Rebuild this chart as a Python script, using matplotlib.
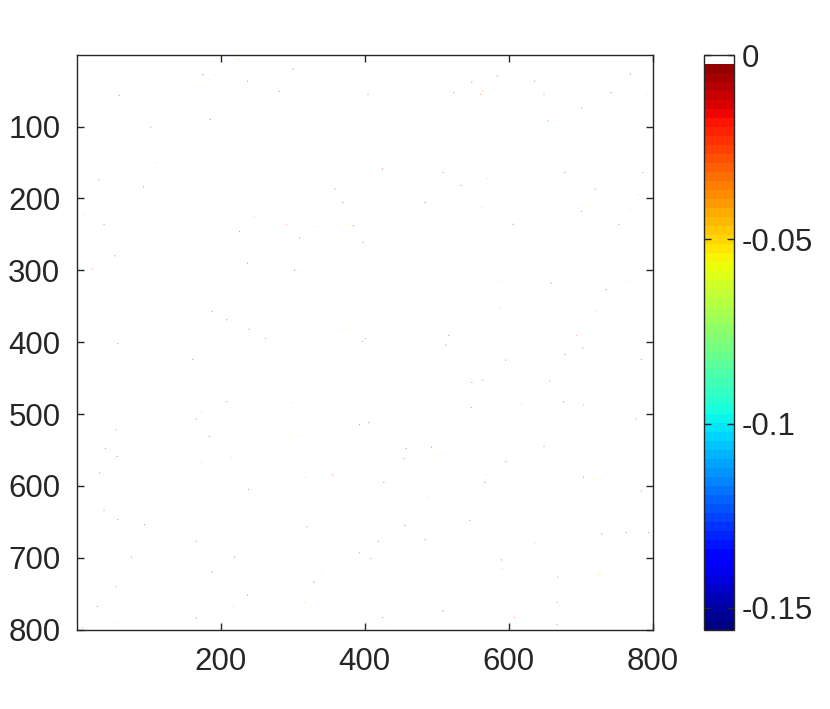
import numpy as np
import matplotlib
matplotlib.use("Agg")
import matplotlib.pyplot as plt
from matplotlib.colors import ListedColormap
from matplotlib.ticker import FuncFormatter

plt.rcParams["font.family"] = ["Liberation Sans", "DejaVu Sans"]

# sparse matrix entries: row, column, value
dk, rd, og, ye, gr, cy, bl = -0.005, -0.02, -0.045, -0.058, -0.075, -0.095, -0.13
dot_rows = [7, 28, 36, 35, 37, 57, 90, 101, 108, 150, 171, 174, 182, 184, 223, 236, 225, 246,
            280, 298, 290, 307, 329, 357, 369, 382, 395,
            20, 51, 55, 53, 159, 164, 172, 182, 187, 192, 206, 206, 236, 239, 238, 238, 255, 261,
            257, 300, 296, 293, 379, 383, 395, 399, 391,
            6, 30, 38, 37, 27, 46, 51, 55, 55, 53, 55, 74, 92, 164, 164, 172, 187, 195, 213, 211,
            218, 216, 236, 236, 316, 318, 314, 327, 353, 357, 391,
            402, 424, 435, 483, 497, 493, 507, 522, 531, 528, 548, 559, 562, 561, 568, 582, 605,
            634, 647, 654, 654, 677, 699, 699, 712, 720, 740, 752, 768, 767, 778, 784, 790, 797,
            404, 484, 515, 512, 530, 548, 546, 556, 562, 588, 585, 595, 616, 647, 657, 655, 677,
            675, 693, 701, 703, 719, 734, 762, 774, 783, 796,
            402, 408, 417, 425, 424, 434, 456, 453, 454, 487, 483, 487, 491, 492, 507, 545, 567,
            566, 584, 595, 588, 591, 607, 636, 648, 667, 665, 665, 680, 703, 715, 723, 725, 727,
            762, 783, 793]
dot_cols = [224, 175, 172, 184, 237, 59, 185, 103, 151, 110, 38, 31, 37, 93, 9, 38, 247, 226,
            53, 22, 237, 257, 241, 188, 208, 239, 262,
            300, 281, 404, 523, 424, 508, 498, 533, 358, 494, 369, 483, 291, 330, 380, 384, 309, 397,
            436, 302, 485, 530, 384, 380, 400, 396, 516,
            798, 583, 548, 635, 768, 654, 563, 560, 648, 741, 790, 700, 654, 677, 785, 569, 719, 778,
            561, 712, 700, 767, 605, 752, 589, 658, 762, 734, 586, 719, 693,
            57, 161, 259, 208, 174, 195, 166, 55, 184, 1, 40, 56, 53, 214, 174, 32, 238,
            38, 57, 48, 94, 166, 76, 219, 213, 188, 55, 237, 29, 218, 197, 166, 57, 8,
            512, 298, 392, 405, 294, 457, 492, 493, 454, 317, 355, 426, 488, 404, 319, 455, 418,
            483, 392, 408, 488, 358, 329, 316, 508, 424, 435,
            648, 702, 677, 595, 783, 797, 548, 563, 656, 617, 675, 703, 547, 556, 775, 648, 585,
            595, 568, 566, 703, 715, 783, 680, 545, 728, 762, 793, 636, 589, 591, 724, 723, 667,
            666, 607, 666]
dot_vals = [og, dk, ye, cy, dk, dk, dk, rd, ye, og, ye, dk, gr, dk, og, dk, og, dk,
            dk, rd, dk, ye, og, dk, dk, dk, dk,
            dk, dk, dk, dk, dk, dk, ye, dk, dk, ye, dk, dk, rd, og, ye, dk, dk, dk,
            ye, bl, ye, ye, ye, ye, rd, dk, dk,
            rd, dk, dk, dk, dk, gr, og, rd, rd, dk, og, dk, rd, dk, dk, og, rd, og, og, ye,
            dk, og, dk, dk, og, dk, og, dk, og, og, rd,
            dk, dk, ye, dk, og, ye, dk, rd, dk, dk, dk, dk, og, og, og, dk, dk,
            dk, dk, ye, dk, dk, dk, dk, ye, dk, rd, dk, dk, og, og, dk, og, rd,
            dk, og, dk, dk, ye, dk, dk, ye, dk, og, rd, dk, og, gr, dk, dk, dk,
            dk, rd, dk, og, ye, dk, og, dk, dk, ye,
            gr, dk, dk, dk, dk, ye, dk, dk, rd, og, dk, rd, dk, ye, rd, dk, og,
            dk, og, dk, dk, ye, dk, ye, dk, dk, dk, dk, og, dk, og, ye, ye, rd,
            rd, rd, rd]

n = 800
clim = (-0.156, 0.0)
x_ticks = [200, 400, 600, 800]
y_ticks = [100, 200, 300, 400, 500, 600, 700, 800]
cbar_ticks = [0, -0.05, -0.1, -0.15]

Z = np.zeros((n, n))
Z[np.array(dot_rows) - 1, np.array(dot_cols) - 1] = dot_vals

colors = plt.get_cmap("jet", 64)(np.arange(64))
colors[-1] = [1, 1, 1, 1]
cmap = ListedColormap(colors)

fig = plt.figure(figsize=(8.3, 7.09), dpi=100)
ax = fig.add_axes([0.0928, 0.1114, 0.694, 0.811])
cax = fig.add_axes([0.848, 0.1114, 0.036, 0.811])

im = ax.imshow(Z, cmap=cmap, vmin=clim[0], vmax=clim[1], aspect="auto",
               extent=(0.5, n + 0.5, n + 0.5, 0.5), interpolation="bilinear",
               interpolation_stage="rgba")
ax.set_xticks(x_ticks)
ax.set_yticks(y_ticks)
ax.tick_params(direction="in", length=5, width=1, labelsize=22.5, colors="#262626", pad=12,
               top=True, right=True)
for s in ax.spines.values():
    s.set_color("#262626")
    s.set_linewidth(1)

cb = fig.colorbar(im, cax=cax, ticks=cbar_ticks)
cb.ax.yaxis.set_major_formatter(FuncFormatter(lambda v, p: f"{v:g}".replace("\u2212", "-")))
cb.ax.tick_params(direction="in", length=5, width=1, labelsize=22.5, colors="#262626", pad=6,
                  left=True)
cb.outline.set_edgecolor("#262626")
cb.outline.set_linewidth(1)

fig.savefig("out.png", dpi=100)
